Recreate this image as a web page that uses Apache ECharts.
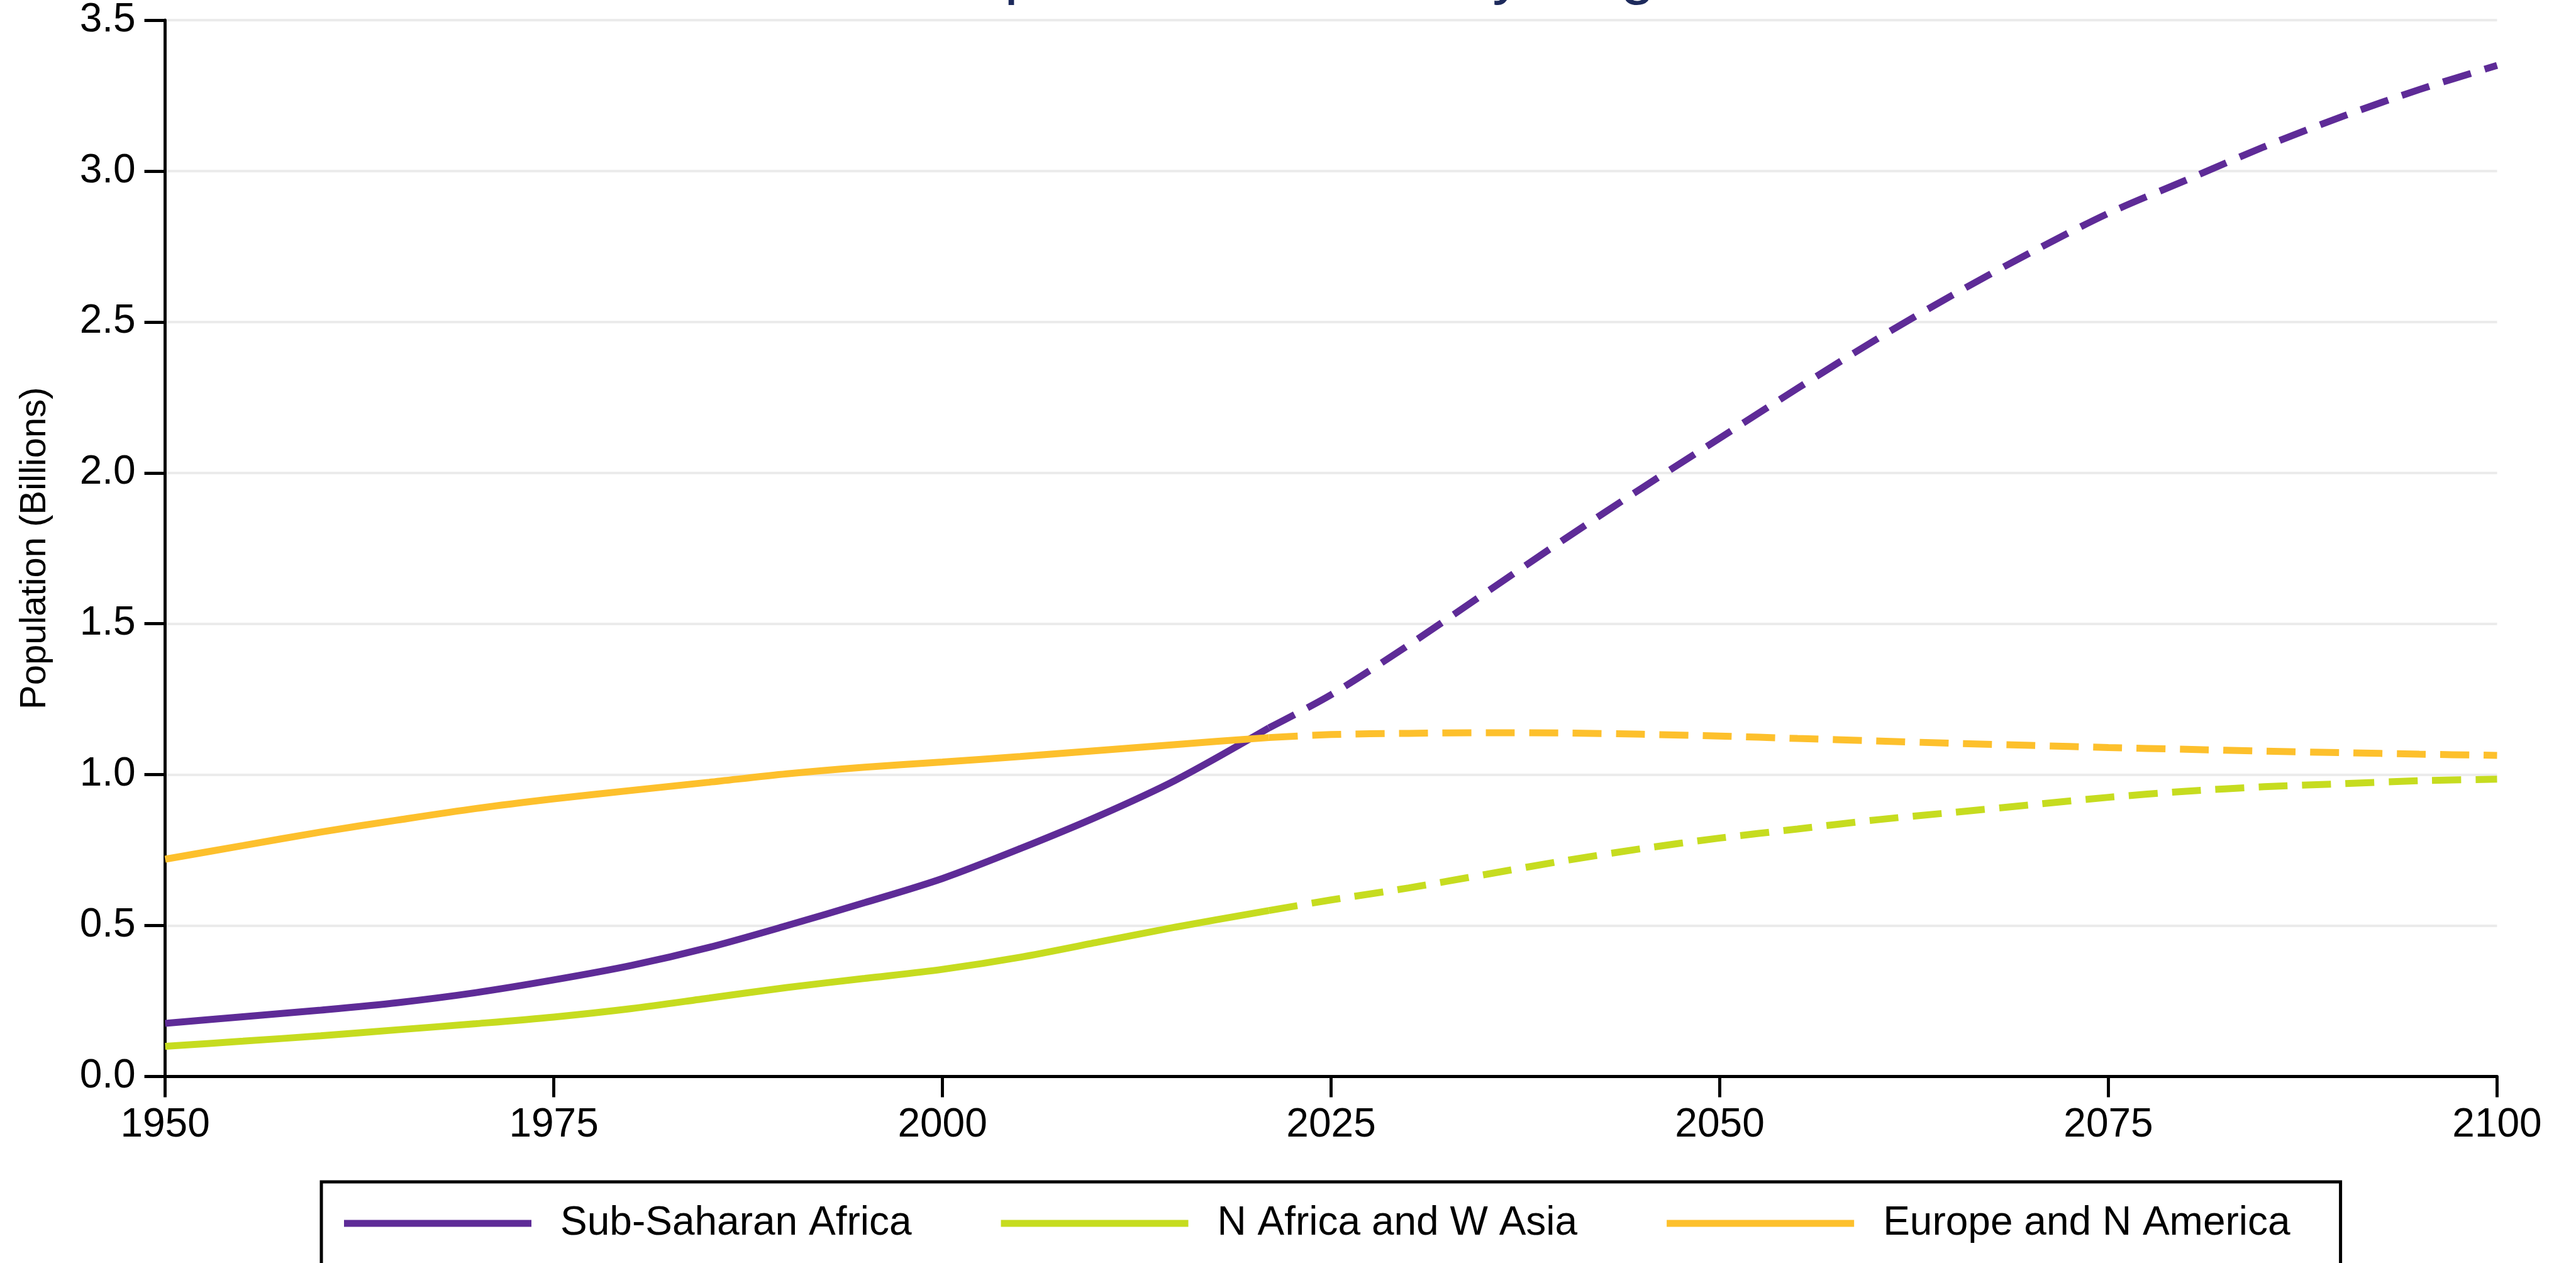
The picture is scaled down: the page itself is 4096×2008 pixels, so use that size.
<!DOCTYPE html>
<html>
<head>
<meta charset="utf-8">
<title>Population Growth by Region</title>
<script src="https://cdn.jsdelivr.net/npm/echarts@6/dist/echarts.min.js"></script>
<style>
  html, body { margin: 0; padding: 0; background: #ffffff; }
  #chart { width: 4096px; height: 2008px; }
</style>
</head>
<body>
<div id="chart"></div>
<script>
// Population in billions. Estimates run to 2021, projections from 2021 on.
const histYears = [1950, 1955, 1960, 1965, 1970, 1975, 1980, 1985, 1990, 1995, 2000, 2005, 2010, 2015, 2021];
const projYears = [2021, 2025, 2030, 2035, 2040, 2045, 2050, 2055, 2060, 2065, 2070, 2075, 2080, 2085, 2090, 2095, 2100];

const ssaHist = [0.176, 0.198, 0.220, 0.245, 0.278, 0.320, 0.368, 0.428, 0.500, 0.576, 0.656, 0.755, 0.862, 0.982, 1.155];
const ssaProj = [1.155, 1.265, 1.430, 1.605, 1.780, 1.950, 2.115, 2.280, 2.440, 2.590, 2.730, 2.860, 2.970, 3.080, 3.180, 3.270, 3.350];

const nawaHist = [0.100, 0.117, 0.135, 0.155, 0.175, 0.197, 0.225, 0.260, 0.295, 0.325, 0.355, 0.395, 0.445, 0.495, 0.550];
const nawaProj = [0.550, 0.585, 0.625, 0.670, 0.715, 0.755, 0.790, 0.820, 0.850, 0.875, 0.900, 0.925, 0.945, 0.960, 0.970, 0.980, 0.985];

const enaHist = [0.720, 0.765, 0.810, 0.850, 0.888, 0.920, 0.948, 0.975, 1.003, 1.025, 1.042, 1.060, 1.080, 1.100, 1.123];
const enaProj = [1.123, 1.133, 1.137, 1.139, 1.138, 1.134, 1.128, 1.120, 1.112, 1.104, 1.097, 1.090, 1.084, 1.078, 1.073, 1.068, 1.064];

const regions = ['Sub-Saharan Africa', 'N Africa and W Asia', 'Europe and N America'];
const colors = ['#5e2b97', '#c6dc1f', '#fdc02c'];
const yTicks = [0, 0.5, 1, 1.5, 2, 2.5, 3, 3.5];
const xTicks = [1950, 1975, 2000, 2025, 2050, 2075, 2100];

const pair = (years, vals) => years.map((y, i) => [y, vals[i]]);

const hist = [ssaHist, nawaHist, enaHist];
const proj = [ssaProj, nawaProj, enaProj];

const LINE_W = 11;
const FONT = '"Liberation Sans", Arial, Helvetica, sans-serif';

// Solid line for the estimates, dashed line for the projections
const series = [];
regions.forEach((name, i) => {
  series.push({
    name, type: 'line', color: colors[i],
    data: pair(histYears, hist[i]),
    showSymbol: false, smooth: 0.3,
    lineStyle: { width: LINE_W, color: colors[i], cap: 'butt' },
    emphasis: { disabled: true }, z: 3
  });
  series.push({
    name, type: 'line', color: colors[i],
    data: pair(projYears, proj[i]),
    showSymbol: false, smooth: 0.3,
    lineStyle: { width: LINE_W, color: colors[i], type: [46, 23], cap: 'butt' },
    emphasis: { disabled: true }, z: 3
  });
});

const chart = echarts.init(document.getElementById('chart'), null, { renderer: 'canvas' });
chart.setOption({
  animation: false,
  backgroundColor: '#ffffff',
  title: {
    text: 'Population Growth by Region',
    left: 1476, top: -89, padding: 0,
    textStyle: { fontFamily: FONT, fontSize: 99, fontWeight: 'normal', color: '#1d2a5c' }
  },
  grid: { left: 262.6, right: 125.5, top: 31.9, bottom: 296.5, containLabel: false },
  xAxis: {
    type: 'value', min: xTicks[0], max: xTicks[xTicks.length - 1], interval: 25,
    axisLine: { show: true, onZero: false, lineStyle: { color: '#000', width: 4.9 } },
    axisTick: { show: true, inside: false, length: 33, lineStyle: { color: '#000', width: 4.9 } },
    axisLabel: { fontFamily: FONT, fontSize: 64, color: '#000', margin: 46,
                 formatter: v => String(v) },
    splitLine: { show: false }
  },
  yAxis: {
    type: 'value', min: yTicks[0], max: yTicks[yTicks.length - 1], interval: 0.5,
    name: 'Population (Billions)', nameLocation: 'middle', nameGap: 178,
    nameTextStyle: { fontFamily: FONT, fontSize: 58, color: '#000' },
    axisLine: { show: true, lineStyle: { color: '#000', width: 4.9 } },
    axisTick: { show: true, inside: false, length: 33, lineStyle: { color: '#000', width: 4.9 } },
    axisLabel: { fontFamily: FONT, fontSize: 64, color: '#000', margin: 47,
                 formatter: v => v.toFixed(1) },
    splitLine: { show: true, lineStyle: { color: '#ebebeb', width: 4 } }
  },
  legend: {
    data: regions,
    left: 511, top: 1879, orient: 'horizontal',
    padding: [34, 80, 34, 36],
    borderColor: '#000', borderWidth: 5,
    icon: 'rect', itemWidth: 298, itemHeight: 11, itemGap: 142,
    itemStyle: { borderWidth: 0 },
    textStyle: { fontFamily: FONT, fontSize: 64, color: '#000', padding: [0, 0, 0, 41] },
    selectedMode: false
  },
  series
});
</script>
</body>
</html>
